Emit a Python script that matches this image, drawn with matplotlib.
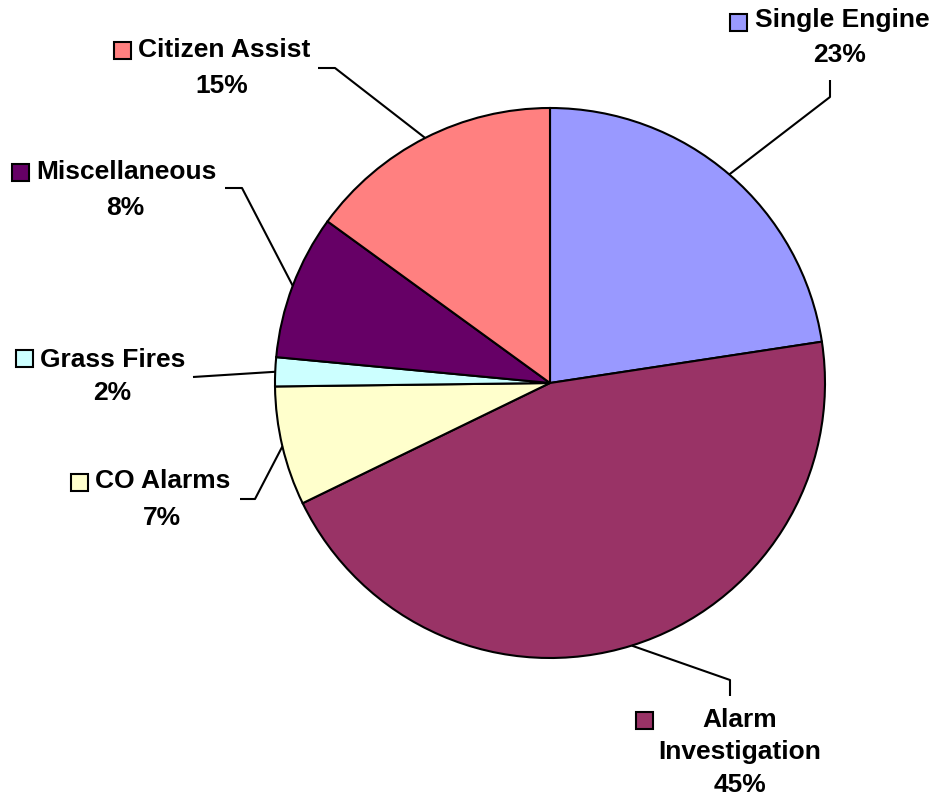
import numpy as np
import matplotlib
matplotlib.use("Agg")
import matplotlib.pyplot as plt
from matplotlib.patches import Rectangle

categories = ["Single Engine", "Alarm\nInvestigation", "CO Alarms", "Grass Fires", "Miscellaneous", "Citizen Assist"]
values = [22.6, 45.2, 7.0, 1.7, 8.5, 15.0]
colors = ["#9999FF", "#993366", "#FFFFCC", "#CCFFFF", "#660066", "#FF8080"]

W, H = 933, 802
fig = plt.figure(figsize=(W / 100, H / 100), dpi=100)
ax = fig.add_axes([0, 0, 1, 1])

def py(y):
    return H - y

cx, cy, R = 550, 383, 275
wedges, _ = ax.pie(values, colors=colors, startangle=90, counterclock=False,
                   center=(cx, py(cy)), radius=R,
                   wedgeprops=dict(edgecolor="black", linewidth=1.5))
ax.set_xlim(0, W)
ax.set_ylim(0, H)
ax.set_aspect("equal")
ax.axis("off")

layout = [
    dict(tl=755, tx=840, ny=20, py_=55, kx=730, ky=22, elbow=[(830, 80), (830, 97)]),
    dict(tl=None, tx=740, ny=720, py_=785, kx=636, ky=720, elbow=[(730, 696), (730, 680)]),
    dict(tl=95, tx=162, ny=481, py_=518, kx=71, ky=482, elbow=[(240, 499), (255, 499)]),
    dict(tl=40, tx=112, ny=360, py_=393, kx=16, ky=358, elbow=[(193, 377)]),
    dict(tl=36, tx=125, ny=172, py_=208, kx=12, ky=172, elbow=[(225, 188), (242, 188)]),
    dict(tl=138, tx=222, ny=50, py_=86, kx=114, ky=50, elbow=[(318, 68), (335, 68)]),
]

fs = 19
fam = "Liberation Sans"
K = 17
for w, cat, val, col, L in zip(wedges, categories, values, colors, layout):
    mid = np.deg2rad((w.theta1 + w.theta2) / 2)
    ex = cx + R * np.cos(mid)
    ey = py(cy) + R * np.sin(mid)
    pts = [(x, py(y)) for x, y in L["elbow"]] + [(ex, ey)]
    xs, ys = zip(*pts)
    ax.plot(xs, ys, color="black", lw=1.5, solid_capstyle="butt")
    if L["tl"] is None:
        name1, name2 = cat.split("\n")
        ax.text(L["tx"], py(L["ny"]), name1, ha="center", va="center",
                fontsize=fs, fontweight="bold", family=fam)
        ax.text(L["tx"], py(L["ny"] + 32), name2, ha="center", va="center",
                fontsize=fs, fontweight="bold", family=fam)
    else:
        ax.text(L["tl"], py(L["ny"]), cat, ha="left", va="center",
                fontsize=fs, fontweight="bold", family=fam)
    ax.text(L["tx"], py(L["py_"]), f"{round(val)}%", ha="center", va="center",
            fontsize=fs, fontweight="bold", family=fam)
    ax.add_patch(Rectangle((L["kx"], py(L["ky"]) - K / 2), K, K, facecolor=col,
                           edgecolor="black", lw=1.5))

fig.savefig("out.png", dpi=100)
